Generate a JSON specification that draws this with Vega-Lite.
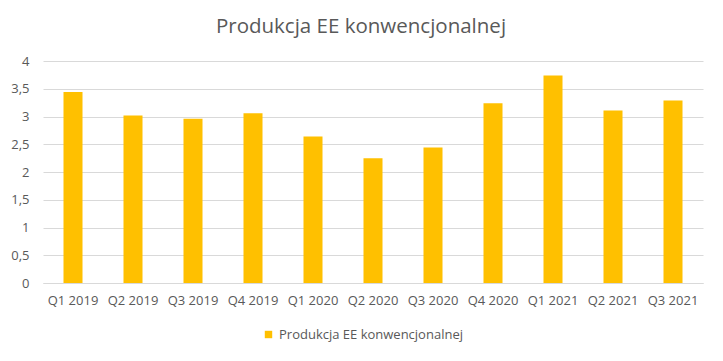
{
  "$schema": "https://vega.github.io/schema/vega-lite/v6.json",
  "width": 660,
  "height": 222,
  "autosize": {"type": "none"},
  "padding": {"left": 43, "top": 61, "right": 20, "bottom": 78},
  "background": "white",
  "title": {
    "text": "Produkcja EE konwencjonalnej",
    "font": "Open Sans",
    "fontSize": 20.5,
    "fontWeight": "normal",
    "color": "#595959",
    "anchor": "middle",
    "dx": -12,
    "offset": 18
  },
  "data": {
    "values": [
      {"kwartal": "Q1 2019", "wartosc": 3.44, "seria": "Produkcja EE konwencjonalnej"},
      {"kwartal": "Q2 2019", "wartosc": 3.02, "seria": "Produkcja EE konwencjonalnej"},
      {"kwartal": "Q3 2019", "wartosc": 2.96, "seria": "Produkcja EE konwencjonalnej"},
      {"kwartal": "Q4 2019", "wartosc": 3.06, "seria": "Produkcja EE konwencjonalnej"},
      {"kwartal": "Q1 2020", "wartosc": 2.64, "seria": "Produkcja EE konwencjonalnej"},
      {"kwartal": "Q2 2020", "wartosc": 2.25, "seria": "Produkcja EE konwencjonalnej"},
      {"kwartal": "Q3 2020", "wartosc": 2.44, "seria": "Produkcja EE konwencjonalnej"},
      {"kwartal": "Q4 2020", "wartosc": 3.24, "seria": "Produkcja EE konwencjonalnej"},
      {"kwartal": "Q1 2021", "wartosc": 3.74, "seria": "Produkcja EE konwencjonalnej"},
      {"kwartal": "Q2 2021", "wartosc": 3.11, "seria": "Produkcja EE konwencjonalnej"},
      {"kwartal": "Q3 2021", "wartosc": 3.29, "seria": "Produkcja EE konwencjonalnej"}
    ]
  },
  "mark": {"type": "bar"},
  "encoding": {
    "x": {
      "field": "kwartal",
      "type": "nominal",
      "sort": null,
      "scale": {"paddingInner": 0.683, "paddingOuter": 0.3415},
      "axis": {
        "title": null,
        "labelAngle": 0,
        "labelFont": "Open Sans",
        "labelFontSize": 13,
        "labelColor": "#595959",
        "labelPadding": 11,
        "ticks": false,
        "domainColor": "#d9d9d9",
        "domainWidth": 1
      }
    },
    "y": {
      "field": "wartosc",
      "type": "quantitative",
      "scale": {"domain": [0, 4], "nice": false},
      "axis": {
        "title": null,
        "values": [0, 0.5, 1, 1.5, 2, 2.5, 3, 3.5, 4],
        "labelExpr": "replace(format(datum.value, '~g'), '.', ',')",
        "labelFont": "Open Sans",
        "labelFontSize": 13,
        "labelColor": "#595959",
        "labelPadding": 14,
        "ticks": false,
        "domain": false,
        "grid": true,
        "gridColor": "#d9d9d9",
        "gridWidth": 1
      }
    },
    "color": {
      "field": "seria",
      "type": "nominal",
      "scale": {"range": ["#FFC000"]},
      "legend": {
        "title": null,
        "orient": "none",
        "legendX": 219,
        "legendY": 267,
        "direction": "horizontal",
        "symbolType": "square",
        "symbolSize": 55,
        "symbolStrokeWidth": 0,
        "labelFont": "Open Sans",
        "labelFontSize": 13,
        "labelColor": "#595959",
        "labelLimit": 400,
        "labelOffset": 4
      }
    }
  },
  "config": {
    "view": {"stroke": null}
  }
}
